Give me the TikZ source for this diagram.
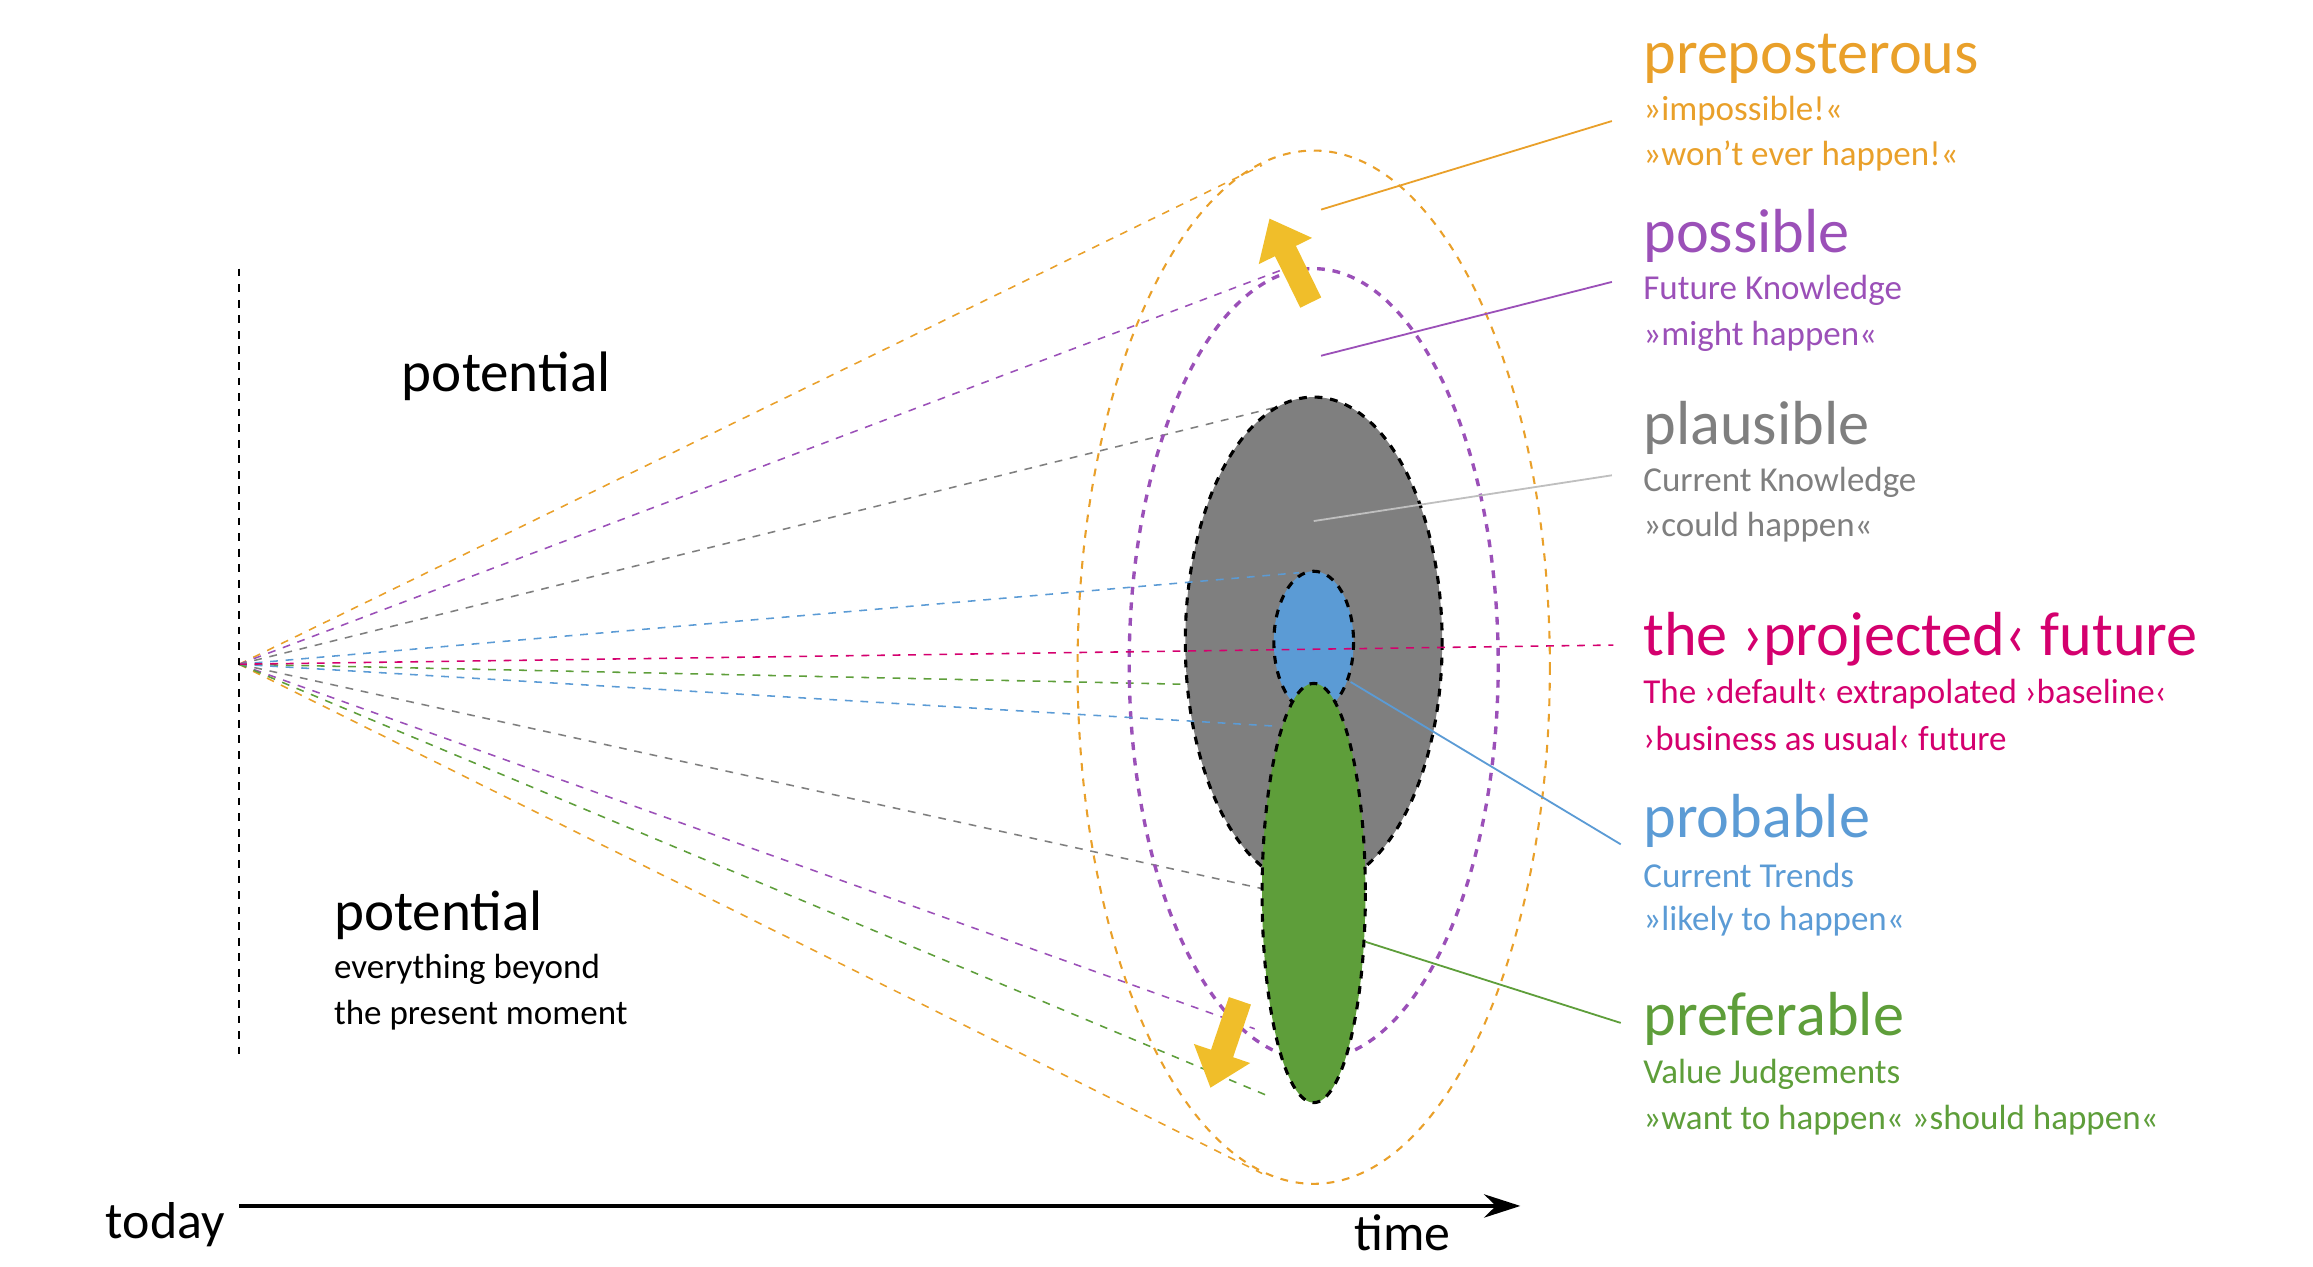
\documentclass[tikz,border=0pt]{standalone}
\usepackage{fontspec}
\setmainfont{Carlito}
\usetikzlibrary{arrows.meta}
\definecolor{cor}{HTML}{E9A02A}
\definecolor{cpu}{HTML}{9B50B8}
\definecolor{cgr}{HTML}{7F7F7F}
\definecolor{cma}{HTML}{D4006E}
\definecolor{cbl}{HTML}{5B9BD5}
\definecolor{cgn}{HTML}{5E9E3A}
\definecolor{cye}{HTML}{F0BE2A}
\newcommand{\fs}[1]{\fontsize{#1}{#1}\selectfont}
\begin{document}
\begin{tikzpicture}[x=0.02cm,y=-0.02cm,
 ray/.style={dashed,line width=0.6pt},
 lab/.style={line width=0.7pt},
 big/.style={anchor=west,font=\fs{24pt},inner sep=0},
 sm/.style={anchor=west,font=\fs{13.5pt},inner sep=0},
 ya/.style={cye,line width=9pt,-{Triangle[length=14pt,width=22pt]}}]
\useasboundingbox (0,0) rectangle (1567,858);
\coordinate (o) at (162,450);
% rays
\draw[ray,cor] (o) -- (855,112); \draw[ray,cor] (o) -- (855,795);
\draw[ray,cpu] (o) -- (868,183); \draw[ray,cpu] (o) -- (850,697);
\draw[ray,cgr] (o) -- (868,275); \draw[ray,cgr] (o) -- (855,602);
\draw[ray,cgn] (o) -- (870,465); \draw[ray,cgn] (o) -- (858,742);
% ellipses
\draw[cor,dashed,line width=0.8pt] (890,452) ellipse [x radius=160,y radius=350];
\draw[cpu,dashed,line width=1.3pt] (890,450) ellipse [x radius=125,y radius=268];
\draw[black,dashed,fill=cgr,line width=1.2pt] (890,435) ellipse [x radius=87,y radius=166];
\draw[black,dashed,fill=cbl,line width=1.2pt] (890,435) ellipse [x radius=27,y radius=48];
\draw[ray,cbl] (o) -- (880,388); \draw[ray,cbl] (o) -- (865,492);
\draw[black,dashed,fill=cgn,line width=1.2pt] (890,605) ellipse [x radius=35,y radius=142];
\draw[ray,cma] (o) -- (1093,437);
% label lines
\draw[lab,cor] (895,142) -- (1092,82);
\draw[lab,cpu] (895,241) -- (1092,191);
\draw[lab,gray!50] (890,353) -- (1092,322);
\draw[lab,cbl] (915,462) -- (1098,572);
\draw[lab,cgn] (925,638) -- (1098,693);
% yellow arrows
\draw[ya] (888,205) -- (860,148);
\draw[ya] (840,678) -- (820,737);
% axis
\draw[dashed,line width=1pt] (162,182) -- (162,718);
\draw[line width=1.2pt,-{Stealth[length=14pt,width=9pt]}] (162,817) -- (1030,817);
\node[font=\fs{20pt}] (today) at (112,830) {today};
\node[font=\fs{20pt}] (time) at (950,835) {time};
\node[font=\fs{22pt}] (p1) at (343,255) {potential};
\node[anchor=west,font=\fs{22pt},inner sep=0] (p2) at (226,620) {potential};
\node[sm,black] at (226,657) {everything beyond};
\node[sm,black] at (226,688) {the present moment};
% right labels
\node[big,cor] at (1113,40) {preposterous};
\node[sm,cor] at (1113,75) {»impossible!«};
\node[sm,cor] at (1113,106) {»won’t ever happen!«};
\node[big,cpu] at (1113,160) {possible};
\node[sm,cpu] at (1113,197) {Future Knowledge};
\node[sm,cpu] at (1113,228) {»might happen«};
\node[big,cgr] at (1113,290) {plausible};
\node[sm,cgr] at (1113,327) {Current Knowledge};
\node[sm,cgr] at (1113,357) {»could happen«};
\node[big,cma] at (1113,433) {the ›projected‹ future};
\node[sm,cma] at (1113,470) {The ›default‹ extrapolated ›baseline‹};
\node[sm,cma] at (1113,500) {›business as usual‹ future};
\node[big,cbl] at (1113,556) {probable};
\node[sm,cbl] at (1113,593) {Current Trends};
\node[sm,cbl] at (1113,624) {»likely to happen«};
\node[big,cgn] at (1113,690) {preferable};
\node[sm,cgn] at (1113,728) {Value Judgements};
\node[sm,cgn] at (1113,759) {»want to happen« »should happen«};
\end{tikzpicture}
\end{document}
